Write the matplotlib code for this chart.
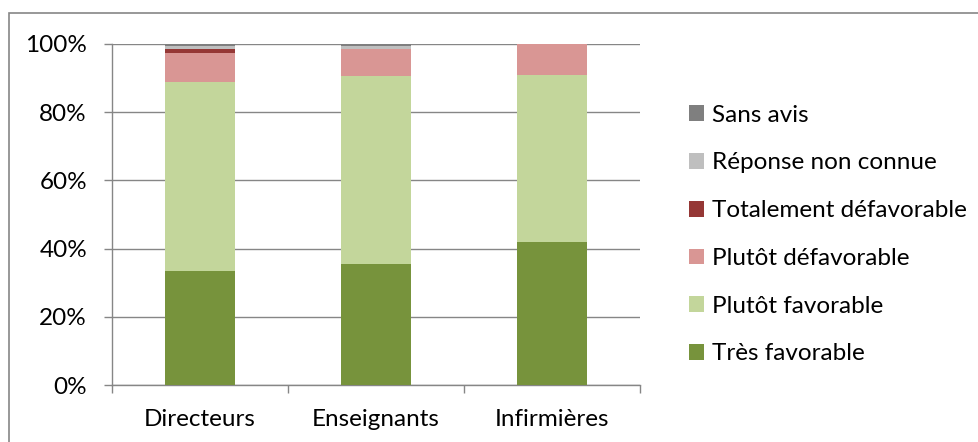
import numpy as np
import matplotlib
matplotlib.use("Agg")
import matplotlib.pyplot as plt
from matplotlib.patches import Rectangle
from matplotlib.ticker import PercentFormatter, FixedLocator

plt.rcParams['font.family'] = ['Lato', 'DejaVu Sans']

categories = ['Directeurs', 'Enseignants', 'Infirmières']
series_names = ['Très favorable', 'Plutôt favorable', 'Plutôt défavorable',
                'Totalement défavorable', 'Réponse non connue', 'Sans avis']
tres_favorable = [33.5, 35.5, 42.0]
plutot_favorable = [55.5, 55.0, 49.0]
plutot_defavorable = [8.5, 8.0, 9.0]
totalement_defavorable = [1.0, 0.0, 0.0]
reponse_non_connue = [1.0, 1.0, 0.0]
sans_avis = [0.5, 0.5, 0.0]
colors = ['#77933C', '#C3D69B', '#D99694', '#953735', '#BFBFBF', '#7F7F7F']

values = [tres_favorable, plutot_favorable, plutot_defavorable,
          totalement_defavorable, reponse_non_connue, sans_avis]

fs = 17.5

fig = plt.figure(figsize=(9.79, 4.42), dpi=100)
ax = fig.add_axes([112 / 979, 1 - 385 / 442, 528 / 979, 341 / 442])

x = np.arange(len(categories))
bottom = np.zeros(len(categories))
handles = []
for name, vals, col in zip(series_names, values, colors):
    vals = np.array(vals)
    h = ax.bar(x, vals, 0.4, bottom=bottom, color=col, label=name, zorder=3)
    handles.append(h)
    bottom += vals

ax.set_xlim(-0.5, 2.5)
ax.set_ylim(0, 100)
ax.set_yticks(np.arange(0, 101, 20))
ax.yaxis.set_major_formatter(PercentFormatter(decimals=0))
ax.grid(axis='y', color='#868686', linewidth=1, zorder=0)
ax.set_xticks(x)
ax.set_xticklabels(categories)
ax.xaxis.set_minor_locator(FixedLocator([-0.5, 0.5, 1.5, 2.5]))
ax.tick_params(axis='x', which='major', length=0, pad=17, labelsize=fs)
ax.tick_params(axis='x', which='minor', length=6, color='#868686', width=1)
ax.tick_params(axis='y', length=6, color='#868686', width=1, pad=12, labelsize=fs)
for s in ['top', 'right']:
    ax.spines[s].set_visible(False)
for s in ['left', 'bottom']:
    ax.spines[s].set_color('#868686')
    ax.spines[s].set_linewidth(1)

fig.legend(handles[::-1], series_names[::-1], loc='upper left',
           bbox_to_anchor=(679 / 979, 1 - 95 / 442), frameon=False,
           fontsize=fs, handlelength=0.62, handleheight=0.62,
           handletextpad=0.32, labelspacing=1.1, borderaxespad=0)

# outer frame, only top and left edges fall inside the picture
fig.patches.append(Rectangle((9 / 979, -0.05), 1.1, 1.05 - 13 / 442,
                             transform=fig.transFigure, fill=False,
                             edgecolor='#868686', linewidth=1.2))

fig.savefig('out.png', dpi=100)
